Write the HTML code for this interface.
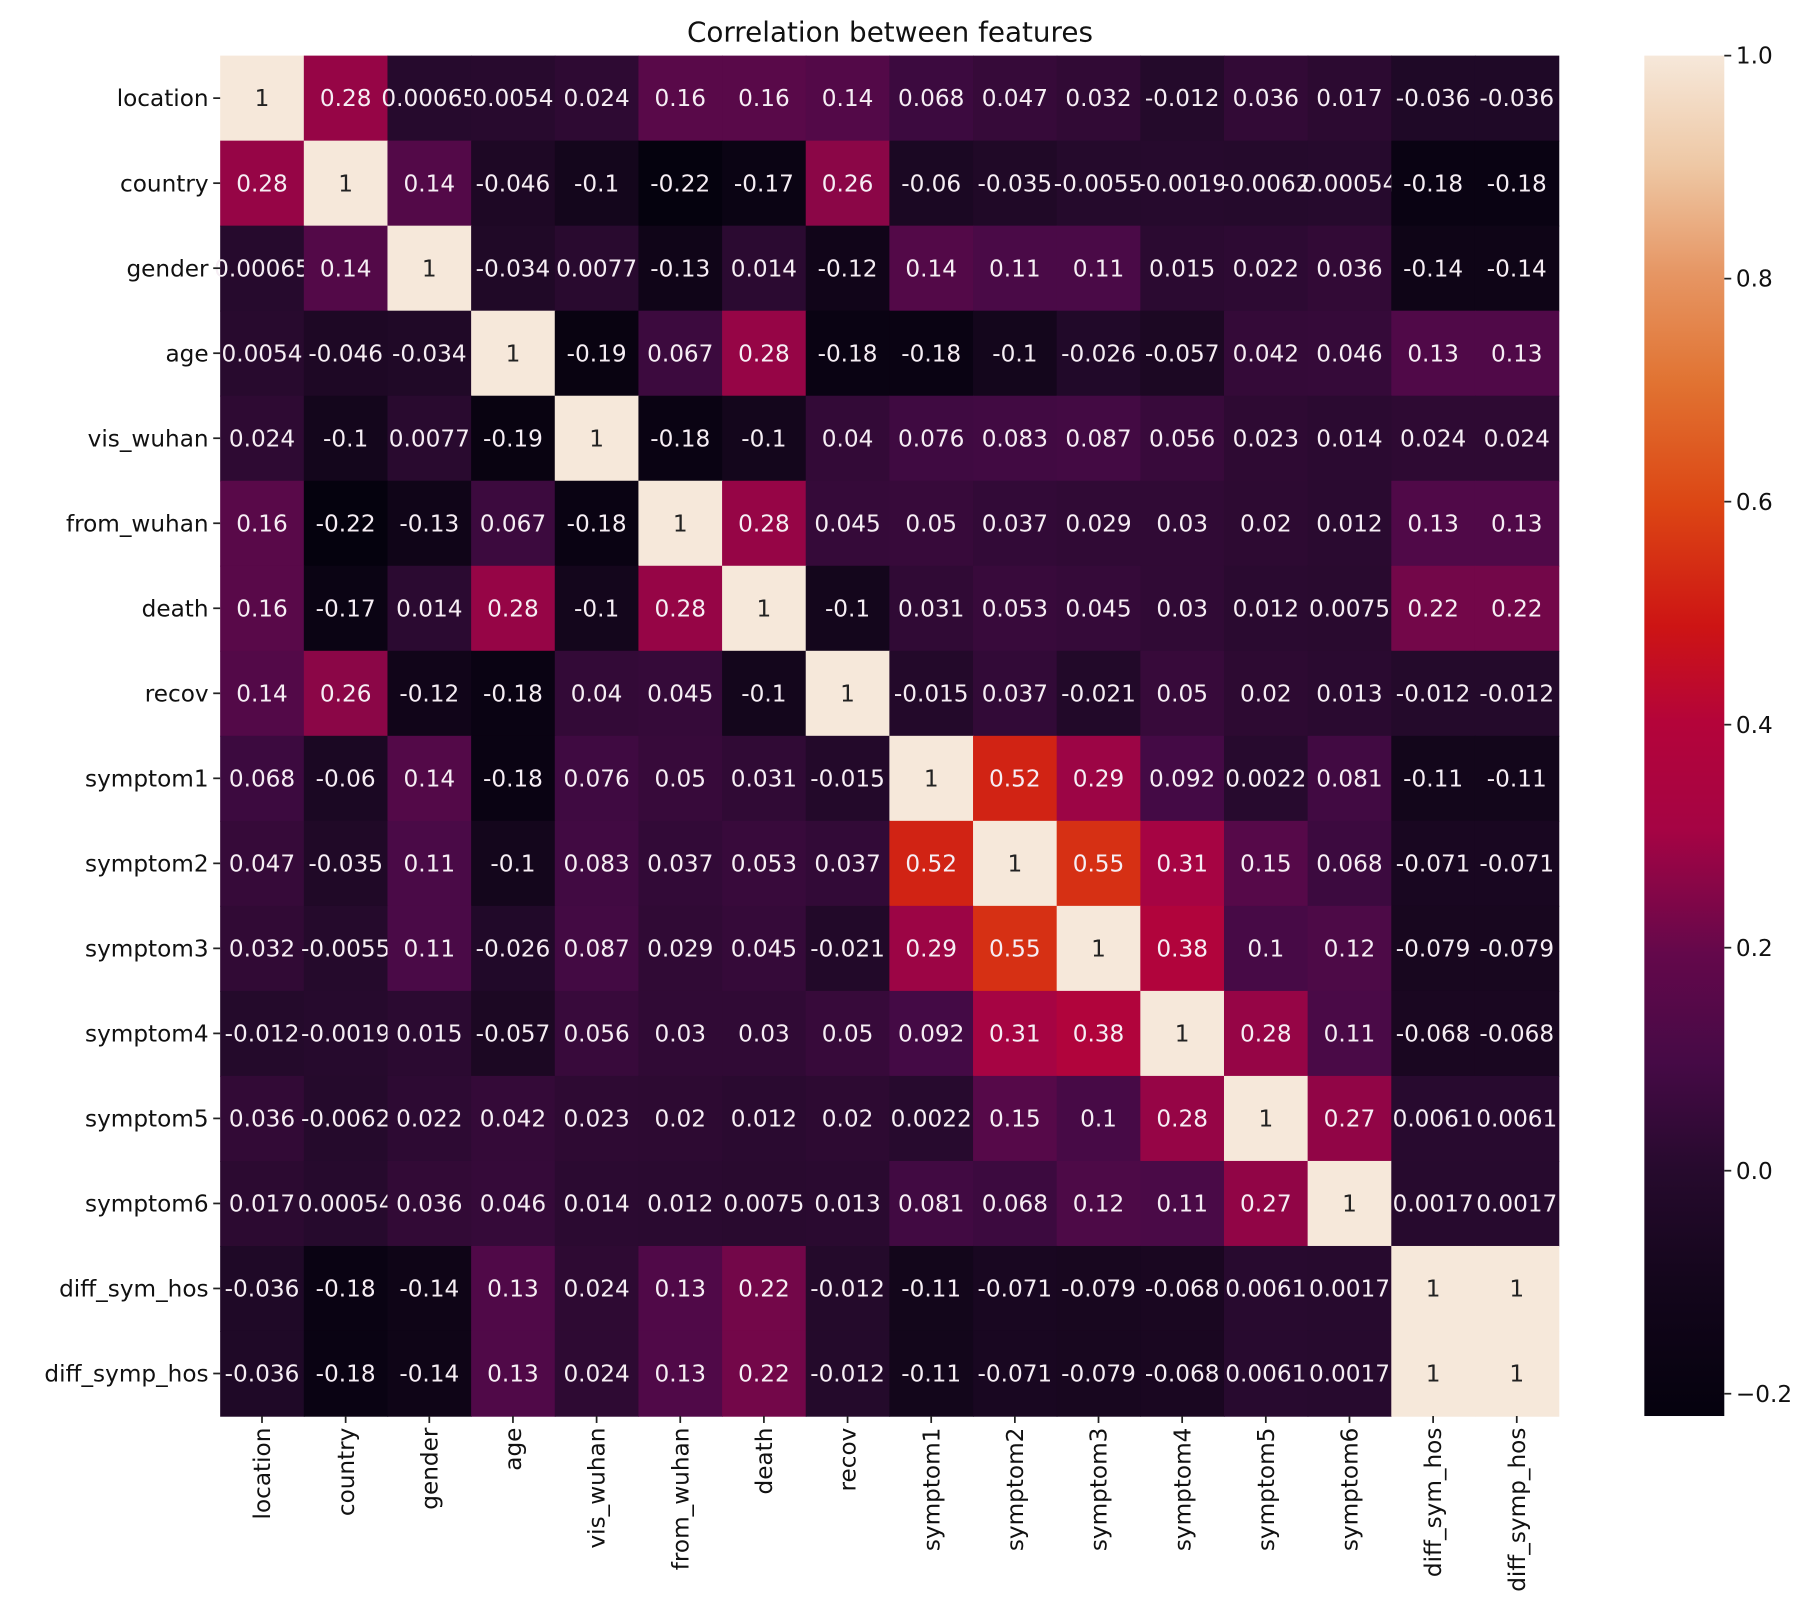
<!DOCTYPE html>
<html><head><meta charset="utf-8"><style>
html,body{margin:0;padding:0;background:#fff;}
svg{display:block;}
text{font-family:"DejaVu Sans","Liberation Sans",sans-serif;}
</style></head><body>
<svg id="chart" width="1817" height="1602" viewBox="0 0 1568 1382.5" preserveAspectRatio="none" xmlns="http://www.w3.org/2000/svg">
<defs><linearGradient id="rocket" x1="0" y1="1" x2="0" y2="0"></linearGradient></defs>
<text x="768" y="36" font-size="24" text-anchor="middle" fill="#111">Correlation between features</text>
<g id="cells"></g><g id="xlabels"></g><g id="ylabels"></g><g id="cbar"></g>
</svg>
<script>
const features = ["location","country","gender","age","vis_wuhan","from_wuhan","death","recov","symptom1","symptom2","symptom3","symptom4","symptom5","symptom6","diff_sym_hos","diff_symp_hos"];
const corr = [
[1,0.28,0.00065,0.0054,0.024,0.16,0.16,0.14,0.068,0.047,0.032,-0.012,0.036,0.017,-0.036,-0.036],
[0.28,1,0.14,-0.046,-0.1,-0.22,-0.17,0.26,-0.06,-0.035,-0.0055,-0.0019,-0.0062,0.00054,-0.18,-0.18],
[0.00065,0.14,1,-0.034,0.0077,-0.13,0.014,-0.12,0.14,0.11,0.11,0.015,0.022,0.036,-0.14,-0.14],
[0.0054,-0.046,-0.034,1,-0.19,0.067,0.28,-0.18,-0.18,-0.1,-0.026,-0.057,0.042,0.046,0.13,0.13],
[0.024,-0.1,0.0077,-0.19,1,-0.18,-0.1,0.04,0.076,0.083,0.087,0.056,0.023,0.014,0.024,0.024],
[0.16,-0.22,-0.13,0.067,-0.18,1,0.28,0.045,0.05,0.037,0.029,0.03,0.02,0.012,0.13,0.13],
[0.16,-0.17,0.014,0.28,-0.1,0.28,1,-0.1,0.031,0.053,0.045,0.03,0.012,0.0075,0.22,0.22],
[0.14,0.26,-0.12,-0.18,0.04,0.045,-0.1,1,-0.015,0.037,-0.021,0.05,0.02,0.013,-0.012,-0.012],
[0.068,-0.06,0.14,-0.18,0.076,0.05,0.031,-0.015,1,0.52,0.29,0.092,0.0022,0.081,-0.11,-0.11],
[0.047,-0.035,0.11,-0.1,0.083,0.037,0.053,0.037,0.52,1,0.55,0.31,0.15,0.068,-0.071,-0.071],
[0.032,-0.0055,0.11,-0.026,0.087,0.029,0.045,-0.021,0.29,0.55,1,0.38,0.1,0.12,-0.079,-0.079],
[-0.012,-0.0019,0.015,-0.057,0.056,0.03,0.03,0.05,0.092,0.31,0.38,1,0.28,0.11,-0.068,-0.068],
[0.036,-0.0062,0.022,0.042,0.023,0.02,0.012,0.02,0.0022,0.15,0.1,0.28,1,0.27,0.0061,0.0061],
[0.017,0.00054,0.036,0.046,0.014,0.012,0.0075,0.013,0.081,0.068,0.12,0.11,0.27,1,0.0017,0.0017],
[-0.036,-0.18,-0.14,0.13,0.024,0.13,0.22,-0.012,-0.11,-0.071,-0.079,-0.068,0.0061,0.0017,1,1],
[-0.036,-0.18,-0.14,0.13,0.024,0.13,0.22,-0.012,-0.11,-0.071,-0.079,-0.068,0.0061,0.0017,1,1]
];
const cbarTicks = [1.0,0.8,0.6,0.4,0.2,0.0,-0.2];
const cbarTickLabels = ["1.0","0.8","0.6","0.4","0.2","0.0","\u22120.2"];
const vmin = -0.22, vmax = 1.0;

const NS="http://www.w3.org/2000/svg";
const L=190,R=1345,T=48,B=1222;
const n=features.length, cw=(R-L)/n, ch=(B-T)/n;
const xPos=i=>L+i*cw, yPos=i=>T+i*ch;
const stops=[[0,[5,2,14]],[0.1,[20,6,28]],[0.18,[38,10,45]],[0.26,[70,10,70]],[0.34,[100,8,75]],[0.43,[165,4,68]],[0.51,[180,4,58]],[0.58,[205,20,20]],[0.67,[220,70,20]],[0.76,[225,115,50]],[0.84,[230,150,100]],[0.92,[238,200,165]],[1,[246,232,218]]];
function cmap(v){let t=Math.max(0,Math.min(1,(v-vmin)/(vmax-vmin)));
 for(let k=1;k<stops.length;k++){if(t<=stops[k][0]){const a=stops[k-1],b=stops[k],f=(t-a[0])/(b[0]-a[0]);
 return `rgb(${a[1].map((c,j)=>Math.round(c+(b[1][j]-c)*f)).join(',')})`;}}return 'rgb(246,232,218)';}
function el(tag,attrs,parent){const e=document.createElementNS(NS,tag);for(const k in attrs)e.setAttribute(k,attrs[k]);parent.appendChild(e);return e;}
const fmt=v=>String(Number(v.toPrecision(2)));
const cells=document.getElementById('cells');
corr.forEach((row,i)=>row.forEach((v,j)=>{
 const r=el('rect',{x:xPos(j),y:yPos(i),width:cw+0.6,height:ch+0.6,fill:cmap(v)},cells);
 
 
 const t=el('text',{x:xPos(j)+cw/2,y:yPos(i)+ch/2+7,'font-size':20,'text-anchor':'middle',fill:((v-vmin)/(vmax-vmin)>0.85)?'#222':'#f6eef4'},cells);
 t.textContent=fmt(v);
 
 
}));
const yl=document.getElementById('ylabels'), xl=document.getElementById('xlabels');
features.forEach((f,i)=>{
 const cy=yPos(i)+ch/2;
 el('line',{x1:L-6,x2:L,y1:cy,y2:cy,stroke:'#222','stroke-width':1.5},yl);
 const t=el('text',{x:L-10,y:cy+7,'font-size':20,'text-anchor':'end',fill:'#111'},yl);
 t.textContent=f;
 
 
 const cx=xPos(i)+cw/2;
 el('line',{x1:cx,x2:cx,y1:B,y2:B+6,stroke:'#222','stroke-width':1.5},xl);
 const u=el('text',{x:0,y:0,'font-size':20,'text-anchor':'end',fill:'#111',transform:`translate(${cx+7},${B+10}) rotate(-90)`},xl);
 u.textContent=f;
 
 
});
const grad=document.getElementById('rocket');
stops.forEach(s=>el('stop',{offset:s[0],'stop-color':`rgb(${s[1].join(',')})`},grad));
const cb=document.getElementById('cbar');
const CL=1419,CR=1488;
const cy=v=>T+(vmax-v)/(vmax-vmin)*(B-T);
const bar=el('rect',{x:CL,y:T,width:CR-CL,height:B-T,fill:'url(#rocket)'},cb);


cbarTicks.forEach((v,k)=>{
 const y=cy(v);
 el('line',{x1:CR,x2:CR+6,y1:y,y2:y,stroke:'#222','stroke-width':1.5},cb);
 const t=el('text',{x:CR+10,y:y+7,'font-size':20,fill:'#111'},cb);
 t.textContent=cbarTickLabels[k];
 
 
});
</script>
</body></html>
